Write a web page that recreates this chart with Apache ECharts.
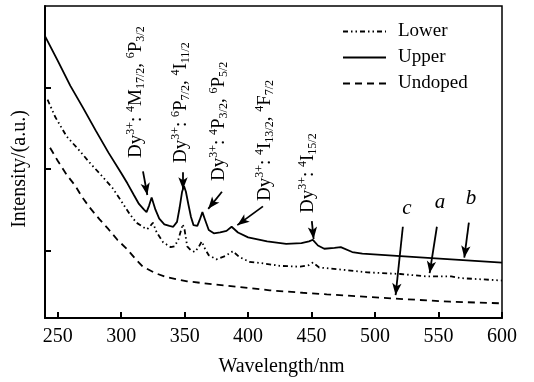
<!DOCTYPE html>
<html>
<head>
<meta charset="utf-8">
<script src="https://cdn.jsdelivr.net/npm/echarts@6/dist/echarts.min.js"></script>
<style>
  html, body { margin: 0; padding: 0; background: #fff; }
  #chart { width: 534px; height: 382px; }
</style>
</head>
<body>
<div id="chart"></div>
<script>
const serif = '"Liberation Serif", "Times New Roman", serif'

// [wavelength nm, intensity a.u.]
const lowerData = [
  [242, 2.85], [248, 2.64], [257, 2.40], [268, 2.21], [275, 2.08], [285, 1.91],
  [293, 1.77], [299, 1.63], [307, 1.44], [312, 1.34], [318, 1.28], [320.5, 1.26],
  [323, 1.30], [325, 1.34], [328, 1.22], [333, 1.10], [339, 1.04], [342, 1.05],
  [345, 1.13], [348.5, 1.32], [350, 1.25], [352, 1.05], [355, 1.00], [358, 0.98],
  [361, 1.04], [363.5, 1.11], [366, 1.02], [369, 0.94], [375, 0.89], [382, 0.93],
  [388, 0.99], [393, 0.92], [401, 0.86], [412, 0.84], [425, 0.81], [441, 0.80],
  [448, 0.82], [451, 0.85], [456, 0.79], [470, 0.77], [494, 0.73], [520, 0.71],
  [541, 0.68], [560, 0.68], [567, 0.66], [600, 0.63]
]
const upperData = [
  [240, 3.63], [250, 3.33], [260, 3.02], [270, 2.75], [280, 2.47], [290, 2.20],
  [300, 1.95], [305, 1.82], [310, 1.68], [314, 1.57], [318, 1.50], [320, 1.47],
  [322, 1.55], [324, 1.65], [327, 1.50], [330, 1.39], [334, 1.32], [338, 1.30],
  [341, 1.29], [344, 1.35], [346, 1.52], [348, 1.72], [349.5, 1.79], [351, 1.72],
  [353, 1.56], [355, 1.41], [357, 1.31], [360, 1.30], [362, 1.38], [364, 1.47],
  [366, 1.38], [369, 1.25], [373, 1.21], [378, 1.22], [383, 1.24], [387, 1.29],
  [392, 1.22], [400, 1.16], [415, 1.11], [430, 1.08], [442, 1.09], [448, 1.11],
  [451, 1.13], [455, 1.06], [460, 1.02], [468, 1.03], [473, 1.04], [482, 0.98],
  [490, 0.96], [520, 0.93], [560, 0.89], [600, 0.85]
]
const undopedData = [
  [244, 2.26], [250, 2.10], [257, 1.93], [264, 1.79], [269, 1.66], [275, 1.53],
  [283, 1.38], [290, 1.26], [297, 1.13], [305, 1.01], [311, 0.90], [317, 0.80],
  [327, 0.72], [336, 0.67], [352, 0.62], [375, 0.58], [394, 0.55], [417, 0.51],
  [443, 0.48], [462, 0.46], [514, 0.41], [559, 0.37], [600, 0.35]
]

const xTicks = [250, 300, 350, 400, 450, 500, 550, 600]
const yTicks = [1, 2, 3]

// arrows: [from, to] in data coordinates
const arrows = [
  [[317.2, 1.97], [320.6, 1.68]],
  [[348.7, 1.96], [348.7, 1.75]],
  [[379.4, 1.72], [368.6, 1.51]],
  [[411.7, 1.54], [391.5, 1.31]],
  [[450.2, 1.36], [451.6, 1.14]],
  [[521.9, 1.29], [516.2, 0.45]],
  [[548.7, 1.29], [543.0, 0.72]],
  [[573.9, 1.34], [570.3, 0.91]]
]

const peakLabels = [
  '{m|Dy}{sup|3+}{m|: }{sup|4}{m|M}{sub|17/2}{m|, }{sup|6}{m|P}{sub|3/2}',
  '{m|Dy}{sup|3+}{m|: }{sup|6}{m|P}{sub|7/2}{m|, }{sup|4}{m|I}{sub|11/2}',
  '{m|Dy}{sup|3+}{m|: }{sup|4}{m|P}{sub|3/2}{m|, }{sup|6}{m|P}{sub|5/2}',
  '{m|Dy}{sup|3+}{m|: }{sup|4}{m|I}{sub|13/2}{m|, }{sup|4}{m|F}{sub|7/2}',
  '{m|Dy}{sup|3+}{m|: }{sup|4}{m|I}{sub|15/2}'
]
const curveLetters = ['c', 'a', 'b']

const chart = echarts.init(document.getElementById('chart'))

const rich = {
  m: { fontFamily: serif, fontSize: 19, lineHeight: 22, color: '#000' },
  sup: { fontFamily: serif, fontSize: 12, lineHeight: 12, verticalAlign: 'top', color: '#000' },
  sub: { fontFamily: serif, fontSize: 12, lineHeight: 8, verticalAlign: 'bottom', color: '#000' }
}

// text placement in pixels (column centre x, start y)
const labelPos = [[136, 158], [181, 163], [219, 181], [265, 201], [308, 213]]
const letterPos = [[407, 208], [440, 202], [471, 198]]

const graphics = peakLabels.map((t, i) => ({
  type: 'text',
  x: labelPos[i][0],
  y: labelPos[i][1],
  rotation: Math.PI / 2,
  style: { text: t, rich: rich, align: 'left', verticalAlign: 'middle' }
})).concat(curveLetters.map((t, i) => ({
  type: 'text',
  x: letterPos[i][0],
  y: letterPos[i][1],
  style: {
    text: t, fontFamily: serif, fontSize: 21, fontStyle: 'italic', fill: '#000',
    align: 'center', verticalAlign: 'middle'
  }
})))

chart.setOption({
  animation: false,
  grid: { left: 45, right: 32, top: 6, bottom: 63, show: true, borderColor: '#000', borderWidth: 1.5 },
  legend: {
    orient: 'vertical', left: 342, top: 22, padding: 0,
    itemWidth: 43, itemHeight: 20, itemGap: 7,
    data: ['Lower', 'Upper', 'Undoped'],
    textStyle: { fontFamily: serif, fontSize: 19, color: '#000', padding: [0, 0, 0, 7] }
  },
  xAxis: {
    type: 'value', min: 240, max: 600,
    name: 'Wavelength/nm', nameLocation: 'middle', nameGap: 39,
    nameTextStyle: { fontFamily: serif, fontSize: 20, color: '#000', padding: [0, 0, 0, 16] },
    axisLine: { lineStyle: { color: '#000', width: 2 } },
    axisTick: { inside: true, length: 6, customValues: xTicks, lineStyle: { color: '#000', width: 2 } },
    axisLabel: { customValues: xTicks, fontFamily: serif, fontSize: 20, color: '#000', margin: 9 },
    splitLine: { show: false }
  },
  yAxis: {
    type: 'value', min: 0.17, max: 4,
    name: 'Intensity/(a.u.)', nameLocation: 'middle', nameGap: 15,
    nameTextStyle: { fontFamily: serif, fontSize: 20, color: '#000', padding: [0, 14, 0, 0] },
    axisLine: { show: true, lineStyle: { color: '#000', width: 2 } },
    axisTick: { show: true, inside: true, length: 6, customValues: yTicks, lineStyle: { color: '#000', width: 2 } },
    axisLabel: { show: false },
    splitLine: { show: false }
  },
  series: [
    {
      name: 'Lower', type: 'line', symbol: 'none', data: lowerData,
      itemStyle: { color: '#000', opacity: 0 },
      lineStyle: { color: '#000', width: 1.8, type: [5, 3, 1.5, 3, 1.5, 3] }
    },
    {
      name: 'Upper', type: 'line', symbol: 'none', data: upperData,
      itemStyle: { color: '#000', opacity: 0 },
      lineStyle: { color: '#000', width: 1.8 },
      markLine: {
        silent: true, symbol: ['none', 'arrow'], symbolSize: [7, 12],
        label: { show: false },
        lineStyle: { color: '#000', width: 1.8, type: 'solid', opacity: 1 },
        itemStyle: { color: '#000', opacity: 1 },
        data: arrows.map(a => [{ coord: a[0] }, { coord: a[1] }])
      }
    },
    {
      name: 'Undoped', type: 'line', symbol: 'none', data: undopedData,
      itemStyle: { color: '#000', opacity: 0 },
      lineStyle: { color: '#000', width: 1.8, type: [7, 5] }
    }
  ],
  graphic: graphics
})
</script>
</body>
</html>
